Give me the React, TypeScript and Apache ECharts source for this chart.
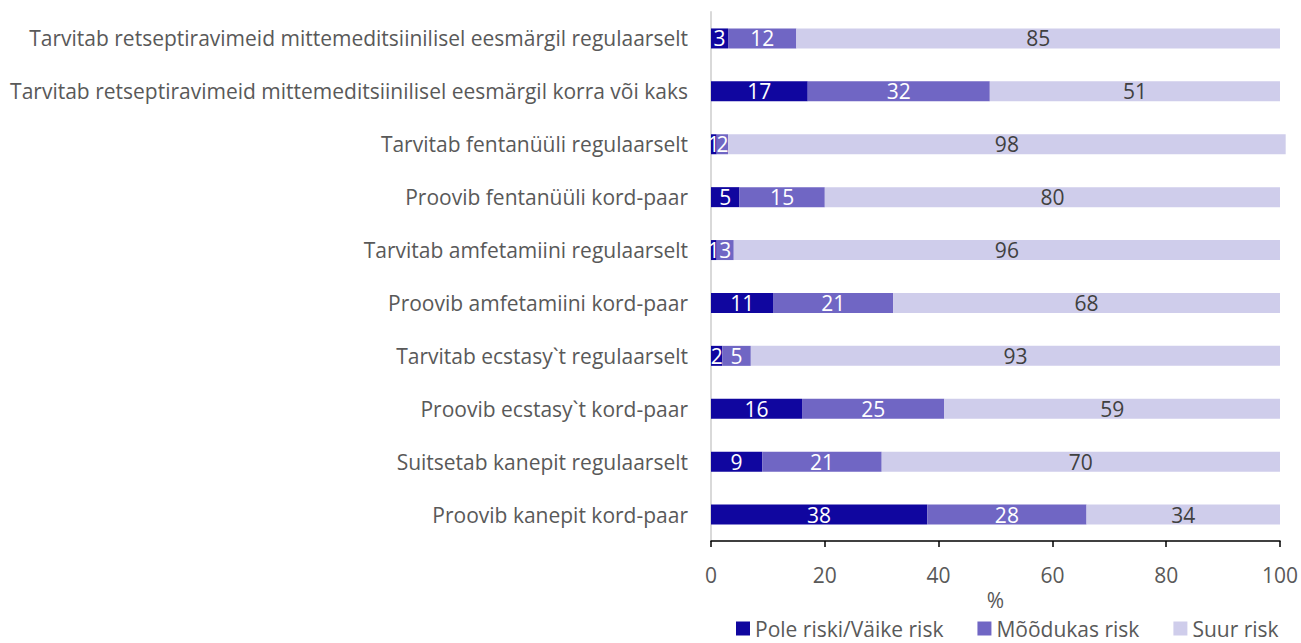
import React, { useEffect, useRef } from "react";
import * as echarts from "echarts";

const categories = [
  "Tarvitab retseptiravimeid mittemeditsiinilisel eesmärgil regulaarselt",
  "Tarvitab retseptiravimeid mittemeditsiinilisel eesmärgil korra või kaks",
  "Tarvitab fentanüüli regulaarselt",
  "Proovib fentanüüli kord-paar",
  "Tarvitab amfetamiini regulaarselt",
  "Proovib amfetamiini kord-paar",
  "Tarvitab ecstasy`t regulaarselt",
  "Proovib ecstasy`t kord-paar",
  "Suitsetab kanepit regulaarselt",
  "Proovib kanepit kord-paar",
];
const seriesNames = ["Pole riski/Väike risk", "Mõõdukas risk", "Suur risk"];
const lowRisk = [3, 17, 1, 5, 1, 11, 2, 16, 9, 38];
const moderateRisk = [12, 32, 2, 15, 3, 21, 5, 25, 21, 28];
const highRisk = [85, 51, 98, 80, 96, 68, 93, 59, 70, 34];
const xTicks = [0, 20, 40, 60, 80, 100];
const axisName = "%";

const colors = ["#10069f", "#7066c4", "#cfcdeb"];
const labelColors = ["#ffffff", "#ffffff", "#404040"];
const FONT = "'Open Sans', 'Noto Sans', sans-serif";
const FS = 21;

export default function App() {
  const ref = useRef<HTMLDivElement>(null);
  useEffect(() => {
    if (!ref.current) return;
    const chart = echarts.init(ref.current, null, { renderer: "svg" });
    const data = [lowRisk, moderateRisk, highRisk];
    chart.setOption({
      animation: false,
      textStyle: { fontFamily: FONT },
      grid: { left: 711, right: 20, top: 12, bottom: 102, containLabel: false },
      legend: {
        top: 613,
        left: 731,
        itemWidth: 14,
        itemHeight: 14,
        itemGap: 34,
        icon: "rect",
        padding: [5, 0, 0, 5],
        textStyle: { fontFamily: FONT, fontSize: FS, color: "#595959", lineHeight: 21 },
        data: seriesNames,
      },
      xAxis: {
        type: "value",
        min: xTicks[0],
        max: xTicks[xTicks.length - 1],
        interval: 20,
        name: axisName,
        nameLocation: "middle",
        nameGap: 48,
        nameTextStyle: { fontFamily: FONT, fontSize: FS, color: "#595959" },
        axisLine: { show: true, lineStyle: { color: "#000000", width: 1.5 } },
        axisTick: { show: true, length: 6, lineStyle: { color: "#000000", width: 1.5 } },
        axisLabel: { fontFamily: FONT, fontSize: FS, color: "#595959", margin: 23 },
        splitLine: { show: false },
      },
      yAxis: {
        type: "category",
        inverse: true,
        data: categories,
        axisLine: { show: true, lineStyle: { color: "#d9d9d9", width: 2 } },
        axisTick: { show: false },
        axisLabel: { fontFamily: FONT, fontSize: FS, color: "#595959", margin: 23 },
      },
      series: seriesNames.map((name, i) => ({
        name,
        type: "bar",
        stack: "total",
        barWidth: 20,
        clip: false,
        data: data[i],
        itemStyle: { color: colors[i] },
        label: {
          show: true,
          position: "inside",
          color: labelColors[i],
          fontFamily: FONT,
          fontSize: FS,
        },
      })),
    });
    return () => chart.dispose();
  }, []);
  return <div ref={ref} style={{ width: 1301, height: 643, position: "absolute", left: 0, top: 0 }} />;
}
